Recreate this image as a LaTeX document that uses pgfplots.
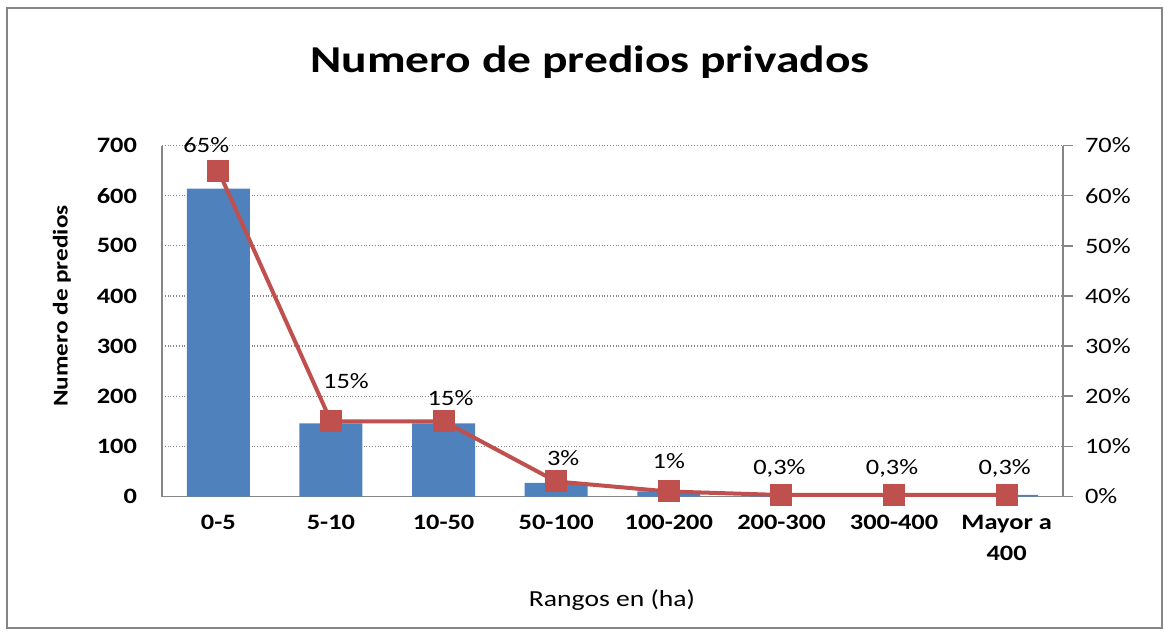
\documentclass[border=0pt]{standalone}
\usepackage{pgfplots}
\pgfplotsset{compat=1.18}
\usepackage{fontspec}
\setmainfont{Carlito}[FakeStretch=1.2]
\newfontfamily\titlefont{Carlito}[FakeStretch=1.25]
\definecolor{barblue}{HTML}{4F81BD}
\definecolor{linered}{HTML}{C0504D}
\definecolor{axgray}{HTML}{868686}
\pgfplotsset{/pgf/number format/assume math mode=true}
\begin{document}
\begin{tikzpicture}
\path (0,0) rectangle (582.5pt,316pt);
\draw[axgray, line width=1pt] (3.5pt,2pt) rectangle (581pt,312pt);
\node[font=\titlefont\bfseries\fontsize{19}{22}\selectfont] at (295pt,285pt) {Numero de predios privados};
\node[font=\bfseries\fontsize{10.5}{12}\selectfont, rotate=90] at (31pt,163pt) {Numero de predios};
\node[font=\fontsize{11.5}{13}\selectfont] at (306pt,16pt) {Rangos en (ha)};
\begin{axis}[
  at={(81pt,67.75pt)}, anchor=south west,
  scale only axis, width=450.5pt, height=175.5pt,
  xmin=-0.5, xmax=7.5, ymin=0, ymax=700,
  axis x line*=bottom, axis y line*=left,
  axis line style={axgray, line width=0.8pt},
  ytick={0,100,...,700}, xtick={0,...,7},
  xticklabels={0-5,5-10,10-50,50-100,100-200,200-300,300-400,{Mayor a\\400}},
  xticklabel style={align=center, font=\bfseries\fontsize{11}{15.5}\selectfont, yshift=-6pt},
  yticklabel style={font=\bfseries\fontsize{11}{12}\selectfont, xshift=-9pt},
  major tick length=0pt,
  ymajorgrids, grid style={axgray, densely dotted, line width=0.6pt},
]
\addplot[ybar, bar width=31.5pt, fill=barblue, draw=none] table {
x y
0 614
1 146
2 146
3 27
4 10
5 3
6 2
7 3
};
\end{axis}
\begin{axis}[
  at={(81pt,67.75pt)}, anchor=south west,
  scale only axis, width=450.5pt, height=175.5pt,
  xmin=-0.5, xmax=7.5, ymin=0, ymax=70,
  axis y line*=right, axis x line=none,
  axis line style={axgray, line width=0.8pt},
  ytick={0,10,...,70}, xtick=\empty,
  yticklabel={\pgfmathprintnumber{\tick}\%},
  yticklabel style={font=\fontsize{11}{12}\selectfont, xshift=2.5pt},
  tick align=outside, major tick length=5pt,
  ytick style={axgray, line width=0.8pt},
]
\addplot[linered, line width=2pt, mark=square*, mark size=4.5pt,
  point meta=\thisrow{y},
  visualization depends on={value \thisrow{dy} \as \dy},
  visualization depends on={value \thisrow{dx} \as \dx},
  nodes near coords={\pgfmathprintnumber[use comma]{\pgfplotspointmeta}\%},
  nodes near coords style={anchor=center, yshift=\dy pt, xshift=\dx pt, text=black, font=\fontsize{11}{12}\selectfont},
] table {
x y dy dx
0 65 12.9 -6
1 15 20 7.5
2 15 11.7 3.5
3 3 11.7 3.5
4 1 15 0
5 0.3 13.5 -1
6 0.3 13.5 -1
7 0.3 13.5 -1
};
\end{axis}
\end{tikzpicture}
\end{document}
